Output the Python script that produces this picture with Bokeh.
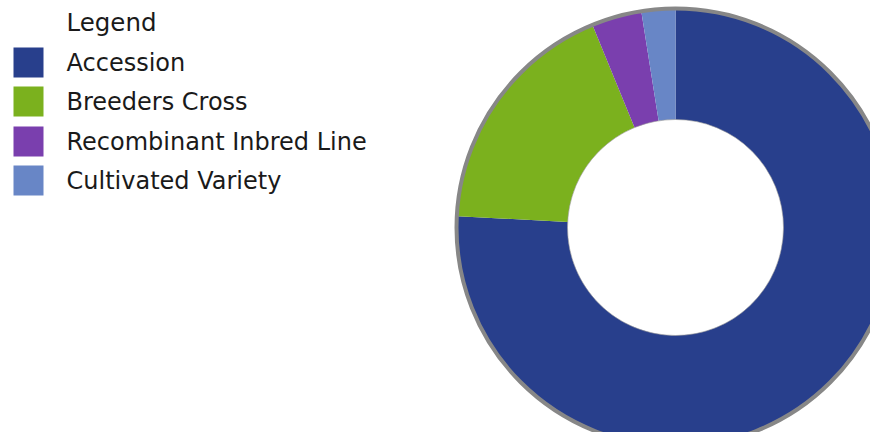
import math
from bokeh.plotting import figure
from bokeh.models import ColumnDataSource, Range1d
from bokeh.core.properties import value
from bokeh.embed import file_html
from bokeh.resources import INLINE

categories = ["Accession", "Breeders Cross", "Recombinant Inbred Line", "Cultivated Variety"]
values = [75.9, 18.0, 3.7, 2.5]
colors = ["#283F8C", "#7BB11E", "#7A3FAE", "#6886C6"]
legend_title = "Legend"

W, H = 870, 432
p = figure(width=W, height=H, output_backend="svg", toolbar_location=None,
           x_range=Range1d(0, W), y_range=Range1d(0, H), min_border=0)
p.axis.visible = False
p.grid.visible = False
p.outline_line_color = None
p.background_fill_color = "white"
p.border_fill_color = "white"

# donut (clockwise from 12 o'clock)
total = sum(values)
starts, ends = [], []
acc = 0.0
for v in values:
    a0 = acc / total * 2 * math.pi
    acc += v
    a1 = acc / total * 2 * math.pi
    starts.append(math.pi / 2 - a0)
    ends.append(math.pi / 2 - a1)

cx, cy = 675, H - 227
src = ColumnDataSource(dict(cat=categories, val=values, color=colors, start=starts, end=ends,
                            x=[cx] * len(values), y=[cy] * len(values)))
p.annular_wedge(x="x", y="y", inner_radius=108, outer_radius=218, inner_radius_units="screen",
                outer_radius_units="screen", start_angle="start", end_angle="end",
                direction="clock", fill_color="color", line_color=None, source=src)
p.circle(x=[cx], y=[cy], radius=219, radius_units="screen", fill_color=None,
         line_color="#878787", line_width=4)
p.circle(x=[cx], y=[cy], radius=108, radius_units="screen", fill_color=None,
         line_color="#9a9a9a", line_width=1, line_alpha=0.6)

# legend
ref_y = [62, 101, 141, 180]
ly = [H - y for y in ref_y]
leg = ColumnDataSource(dict(cat=categories, color=colors, y=ly,
                            sx=[28] * 4, tx=[66] * 4))
p.rect(x="sx", y="y", width=30, height=30, width_units="screen", height_units="screen",
       fill_color="color", line_color=None, source=leg)
p.text(x="tx", y="y", text="cat", source=leg, text_font=value("DejaVu Sans"),
       text_font_size="24px", text_color="#1a1a1a", text_baseline="middle", text_align="left")
p.text(x=[66], y=[H - 22], text=[legend_title], text_font=value("DejaVu Sans"),
       text_font_size="24.5px", text_color="#1a1a1a", text_baseline="middle", text_align="left")

open("out.html", "w").write(file_html(p, INLINE))
